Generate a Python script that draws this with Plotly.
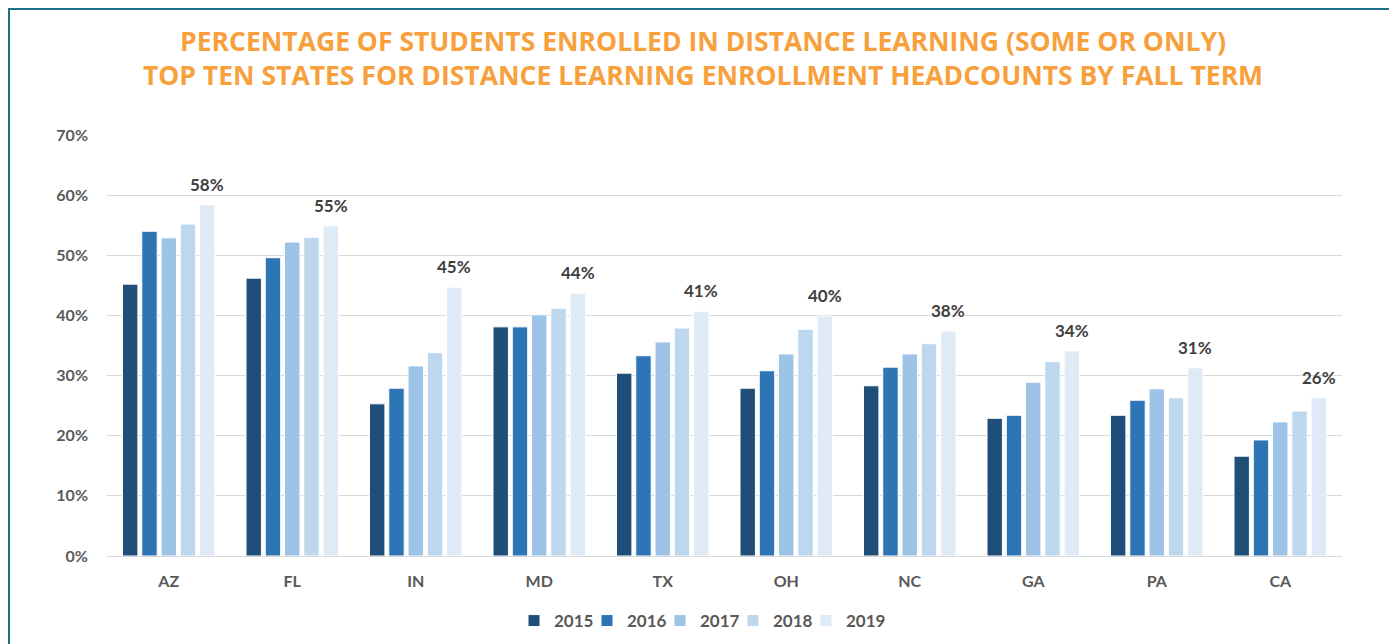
import plotly.graph_objects as go

states = ["AZ", "FL", "IN", "MD", "TX", "OH", "NC", "GA", "PA", "CA"]
years = ["2015", "2016", "2017", "2018", "2019"]
v2015 = [45.2, 46.2, 25.3, 38.1, 30.4, 27.9, 28.3, 22.9, 23.4, 16.6]
v2016 = [54.0, 49.6, 27.9, 38.1, 33.3, 30.8, 31.4, 23.4, 25.9, 19.3]
v2017 = [52.9, 52.2, 31.6, 40.1, 35.6, 33.6, 33.6, 28.9, 27.8, 22.3]
v2018 = [55.2, 53.0, 33.8, 41.2, 37.9, 37.7, 35.3, 32.3, 26.3, 24.1]
v2019 = [58.4, 54.9, 44.7, 43.7, 40.7, 39.9, 37.4, 34.1, 31.3, 26.3]
labels2019 = ["58%", "55%", "45%", "44%", "41%", "40%", "38%", "34%", "31%", "26%"]
colors = ["#1F4E79", "#2E75B6", "#9DC3E6", "#BDD7EE", "#DEEBF7"]

series = [v2015, v2016, v2017, v2018, v2019]

# page body has an 8px default margin; figure sized to fit the window
OFF = 8
W, H = 1397 - OFF, 644 - OFF
ml, mr, mt, mb = 107 - OFF, 55, 135 - OFF, 88
bargap = 0.22

fig = go.Figure()
for name, vals, col in zip(years, series, colors):
    fig.add_trace(go.Bar(
        x=states, y=vals, name=name,
        marker=dict(color=col, line=dict(color="white", width=1)),
        hovertemplate="%{x} " + name + ": %{y:.1f}%<extra></extra>",
    ))
# invisible spacer legend entry so the last legend label is not clipped
fig.add_trace(go.Scatter(x=[None], y=[None], name="", showlegend=True, mode="markers",
                         marker=dict(color="rgba(0,0,0,0)", opacity=0, size=1,
                                     line=dict(width=0, color="rgba(0,0,0,0)")),
                         hoverinfo="skip"))

plot_w = W - ml - mr
plot_h = H - mt - mb
cat_w = plot_w / len(states)
slot = cat_w * (1 - bargap) / len(years)
shift = slot * 2

for s, v, lab in zip(states, v2019, labels2019):
    fig.add_annotation(
        x=s, y=v, text=lab, showarrow=False, xshift=shift, yshift=8,
        yanchor="bottom",
        font=dict(family="Lato", size=17, color="#404040", weight="bold"),
    )

def px_x(p):
    return (p - OFF - ml) / plot_w
def px_y(p):
    return (H - mb - (p - OFF)) / plot_h

fig.add_shape(type="rect", xref="paper", yref="paper",
              x0=px_x(9), x1=px_x(1393), y0=px_y(670), y1=px_y(9),
              line=dict(color="#1F6E8C", width=2), fillcolor="rgba(0,0,0,0)", layer="above")

fig.update_layout(
    width=W, height=H,
    margin=dict(l=ml, r=mr, t=mt, b=mb, autoexpand=False),
    paper_bgcolor="white", plot_bgcolor="white",
    barmode="group", bargap=bargap, bargroupgap=0.2,
    title=dict(
        text="PERCENTAGE OF STUDENTS ENROLLED IN DISTANCE LEARNING (SOME OR ONLY)<br>TOP TEN STATES FOR DISTANCE LEARNING ENROLLMENT HEADCOUNTS BY FALL TERM",
        x=(703 - OFF) / W, xanchor="center", xref="container",
        y=1 - (51 - OFF) / H, yanchor="middle", yref="container",
        font=dict(family="Open Sans", size=26.5, color="#F7A03C", weight="bold"),
    ),
    legend=dict(
        orientation="h", x=px_x(733), xanchor="center", y=px_y(621), yanchor="middle",
        font=dict(family="Lato", size=17, color="#595959", weight="bold"),
        itemwidth=30, traceorder="normal", entrywidth=28, entrywidthmode="pixels",
        itemclick=False, itemdoubleclick=False,
    ),
    xaxis=dict(
        showgrid=False, showline=True, linecolor="#D9D9D9", linewidth=1,
        ticks="", ticklabelstandoff=11,
        tickfont=dict(family="Lato", size=16, color="#595959", weight="bold"),
    ),
    yaxis=dict(
        range=[0, 70], dtick=10, ticksuffix="%",
        showgrid=True, gridcolor="#D9D9D9", gridwidth=1,
        zeroline=False, showline=False, ticks="", ticklabelstandoff=18,
        tickfont=dict(family="Lato", size=16, color="#595959", weight="bold"),
    ),
    hoverlabel=dict(font=dict(family="Lato")),
)

fig.write_html("out.html")
